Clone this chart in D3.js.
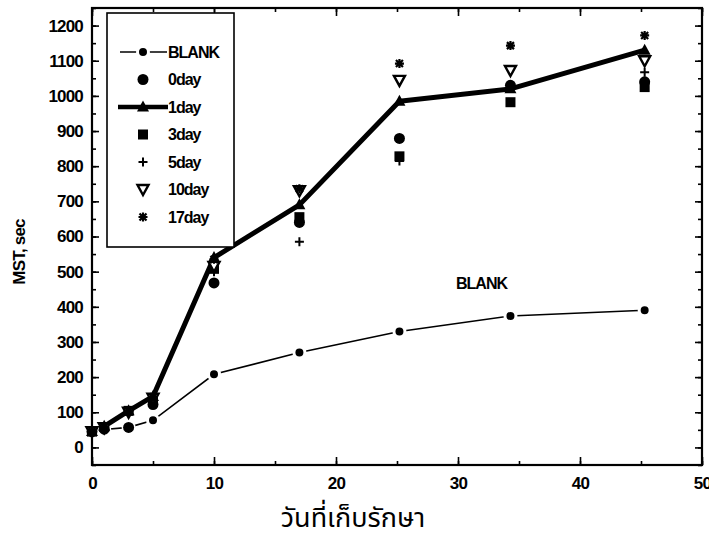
<!DOCTYPE html>
<html>
<head>
<meta charset="utf-8">
<script src="https://cdn.jsdelivr.net/npm/d3@7"></script>
<style>
body { margin: 0; background: #fff; }
svg { display: block; }
text { font-family: "Liberation Sans", Arial, sans-serif; font-weight: bold; fill: #000; }
</style>
</head>
<body>
<svg id="chart" width="709" height="550"></svg>
<script>
// storage days (x) and MST in seconds for each series
var days   = [0, 1, 3, 5, 10, 17, 25.2, 34.3, 45.3];
var blank  = [43, 51, 57, 77, 208, 270, 330, 374, 390];
var day0   = [45, 52, 57, 122, 468, 640, 879, 1030, 1040];
var day1   = [45, 60, 104, 145, 540, 690, 985, 1020, 1130];
var day3   = [45, 58, 104, 140, 508, 655, 828, 982, 1025];
var day5   = [45, 56, 100, 136, 500, 585, 815, 1028, 1067];
var day10  = [45, 56, 100, 140, 515, 730, 1044, 1072, 1100];
var day17  = [45, 58, 102, 144, 535, 736, 1092, 1143, 1172];

var xTicks = [0, 10, 20, 30, 40, 50];
var yTicks = [0, 100, 200, 300, 400, 500, 600, 700, 800, 900, 1000, 1100, 1200];
var legendLabels = ["BLANK", "0day", "1day", "3day", "5day", "10day", "17day"];

var svg = d3.select("#chart");

var x = d3.scaleLinear().domain([0, 50]).range([92, 702]);
var y = d3.scaleLinear().domain([-50, 1250]).range([465, 8]);

function pts(vals) {
	var out = [];
	for (var i = 0; i < days.length; i++) {
		out.push({ d: days[i], v: vals[i] });
	}
	return out;
}

// marker painters, drawn centred on 0,0
function drawMarker(g, kind) {
	if (kind == "circle") {
		g.append("circle").attr("r", 5.5).style("fill", "#000");
	} else if (kind == "blank") {
		g.append("circle").attr("r", 5.5).style("fill", "#000")
			.style("stroke", "#fff").style("stroke-width", 3);
	} else if (kind == "triangle") {
		g.append("path").attr("d", "M0,-6.5L6,4.5L-6,4.5Z").style("fill", "#000");
	} else if (kind == "square") {
		g.append("rect").attr("x", -5).attr("y", -5).attr("width", 10).attr("height", 10)
			.style("fill", "#000");
	} else if (kind == "plus") {
		g.append("path").attr("d", "M-4.5,0H4.5M0,-4.5V4.5")
			.style("stroke", "#000").style("stroke-width", 2);
	} else if (kind == "tridown") {
		g.append("path").attr("d", "M-5.5,-4.5L5.5,-4.5L0,5.5Z")
			.style("fill", "#fff").style("stroke", "#000").style("stroke-width", 2.4);
	} else if (kind == "star") {
		g.append("path").attr("d", "M-4.5,0H4.5M0,-4.5V4.5M-3.5,-3.5L3.5,3.5M-3.5,3.5L3.5,-3.5")
			.style("stroke", "#000").style("stroke-width", 2.2);
	}
}

var line = d3.line()
	.x(function(p) { return x(p.d); })
	.y(function(p) { return y(p.v); });

// BLANK thin line and thick 1day line
svg.append("path").datum(pts(blank)).attr("d", line)
	.style("fill", "none").style("stroke", "#000").style("stroke-width", 1.6);
svg.append("path").datum(pts(day1)).attr("d", line)
	.style("fill", "none").style("stroke", "#000").style("stroke-width", 5)
	.style("stroke-linejoin", "round");

var series = [
	{ vals: blank, kind: "blank" },
	{ vals: day0, kind: "circle" },
	{ vals: day3, kind: "square" },
	{ vals: day5, kind: "plus" },
	{ vals: day10, kind: "tridown" },
	{ vals: day17, kind: "star" },
	{ vals: day1, kind: "triangle" }
];

series.forEach(function(s) {
	svg.append("g").selectAll("g")
		.data(pts(s.vals))
		.enter().append("g")
		.attr("transform", function(p) { return "translate(" + x(p.d) + "," + y(p.v) + ")"; })
		.each(function() { drawMarker(d3.select(this), s.kind); });
});

// axes, ticks pointing into the plot
function styleAxis(g) {
	g.select(".domain").remove();
	g.selectAll("line").style("stroke", "#000").style("stroke-width", 1.6);
	g.selectAll("text").style("font-size", "17px").style("letter-spacing", "-0.8px");
}

var yMinor = d3.range(-50, 1251, 50);
var xMinor = d3.range(0, 51, 5);

svg.append("g").attr("transform", "translate(92,0)")
	.call(d3.axisLeft(y).tickValues(yMinor).tickSize(-4).tickFormat("")).call(styleAxis);
svg.append("g").attr("transform", "translate(92,0)")
	.call(d3.axisLeft(y).tickValues(yTicks).tickSize(-7).tickPadding(9).tickFormat(d3.format("d")))
	.call(styleAxis);
svg.append("g").attr("transform", "translate(702,0)")
	.call(d3.axisRight(y).tickValues(yMinor).tickSize(-4).tickFormat("")).call(styleAxis);
svg.append("g").attr("transform", "translate(702,0)")
	.call(d3.axisRight(y).tickValues(yTicks).tickSize(-7).tickFormat("")).call(styleAxis);

svg.append("g").attr("transform", "translate(0,465)")
	.call(d3.axisBottom(x).tickValues(xMinor).tickSize(-4).tickFormat("")).call(styleAxis);
svg.append("g").attr("transform", "translate(0,465)")
	.call(d3.axisBottom(x).tickValues(xTicks).tickSize(-8).tickPadding(12).tickFormat(d3.format("d")))
	.call(styleAxis);
svg.append("g").attr("transform", "translate(0,8)")
	.call(d3.axisTop(x).tickValues(xMinor).tickSize(-4).tickFormat("")).call(styleAxis);
svg.append("g").attr("transform", "translate(0,8)")
	.call(d3.axisTop(x).tickValues(xTicks).tickSize(-8).tickFormat("")).call(styleAxis);

// plot frame
svg.append("rect")
	.attr("x", x(0)).attr("y", y(1250))
	.attr("width", x(50) - x(0)).attr("height", y(-50) - y(1250))
	.style("fill", "none").style("stroke", "#000").style("stroke-width", 2.2);

// axis titles
svg.append("text")
	.attr("transform", "translate(25,252) rotate(-90)")
	.attr("text-anchor", "middle")
	.style("font-size", "17px").style("letter-spacing", "-0.8px")
	.text("MST, sec");

svg.append("text")
	.attr("x", 353).attr("y", 527)
	.attr("text-anchor", "middle")
	.style("font-family", "'Noto Sans Thai', 'Noto Sans', 'DejaVu Sans', sans-serif")
	.style("font-weight", "normal")
	.style("font-size", "27px")
	.text("วันที่เก็บรักษา");

// curve label
svg.append("text")
	.attr("x", 456).attr("y", 289)
	.style("font-size", "16px").style("letter-spacing", "-1px")
	.text("BLANK");

// legend box
var legend = svg.append("g");
legend.append("rect")
	.attr("x", 107).attr("y", 13).attr("width", 127).attr("height", 234)
	.style("fill", "#fff").style("stroke", "#000").style("stroke-width", 1.6);

var legendKinds = ["blank", "circle", "triangle", "square", "plus", "tridown", "star"];
var legendY = d3.scaleLinear().domain([0, 6]).range([52, 217]);

legendLabels.forEach(function(label, i) {
	var ly = legendY(i);
	if (i == 0) {
		legend.append("line").attr("x1", 120).attr("x2", 167).attr("y1", ly).attr("y2", ly)
			.style("stroke", "#000").style("stroke-width", 1.6);
	}
	if (i == 2) {
		legend.append("line").attr("x1", 118).attr("x2", 168).attr("y1", ly).attr("y2", ly)
			.style("stroke", "#000").style("stroke-width", 4.5);
	}
	var g = legend.append("g").attr("transform", "translate(143," + ly + ")");
	drawMarker(g, legendKinds[i]);
	legend.append("text")
		.attr("x", 168).attr("y", ly + 5.5)
		.style("font-size", "16px").style("letter-spacing", "-1px")
		.text(label);
});
</script>
</body>
</html>
